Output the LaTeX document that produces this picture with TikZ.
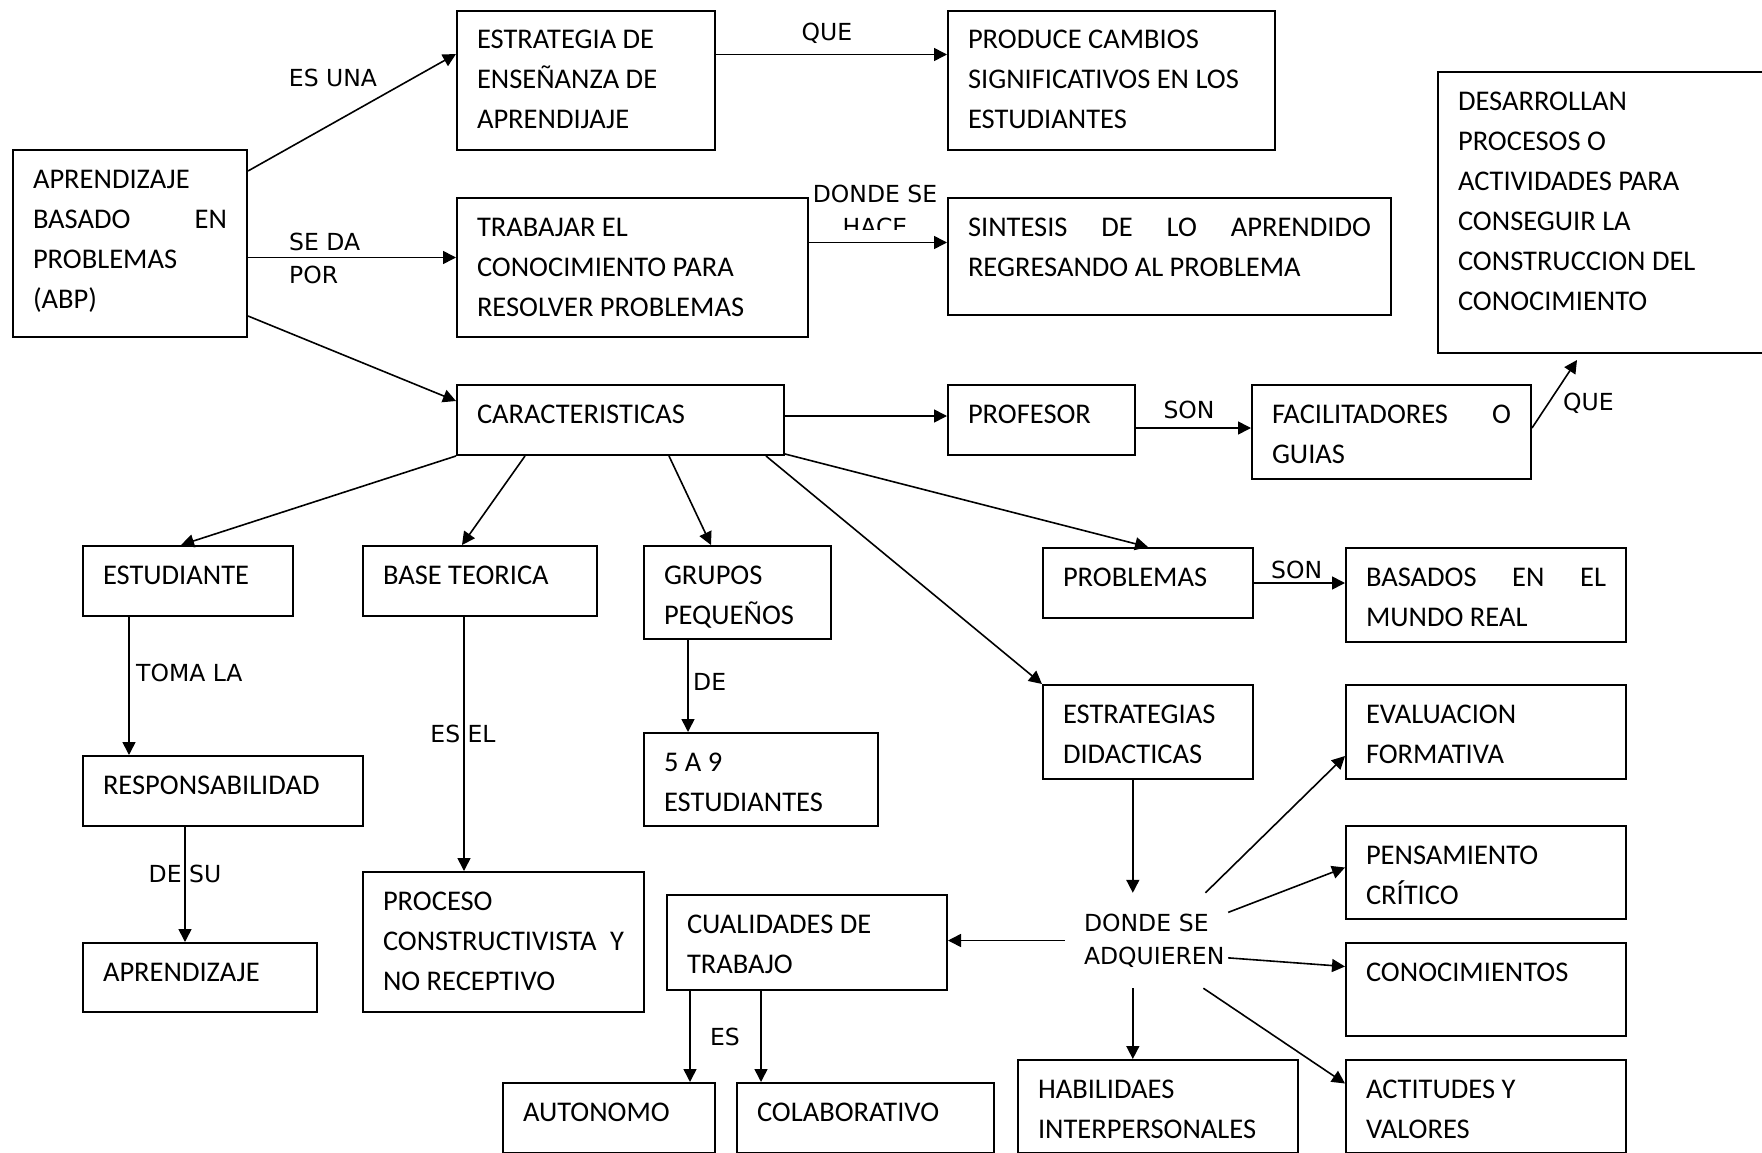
\documentclass[tikz,border=0pt]{standalone}
\usepackage{fontspec}
\setmainfont{Carlito}
\newfontfamily\labelfont{DejaVu Sans}
\usetikzlibrary{arrows.meta}
\hyphenpenalty=10000
\exhyphenpenalty=10000
\newcommand{\conceptbox}[3]{\parbox[c][#2pt][t]{#1pt}{\rule{0pt}{38pt}#3}}

\begin{document}
\begin{tikzpicture}[x=1pt, y=-1pt,
  concept/.style={draw, line width=2pt, anchor=north west, inner xsep=20pt,
    inner ysep=0pt, font=\fontsize{28.5}{40}\selectfont},
  link/.style={font=\labelfont\fontsize{23.5}{33}\selectfont, inner sep=0pt},
  linkarrows/.style={every edge/.style={draw, -{Triangle[length=13pt, width=13pt]},
    line width=1.6pt}}]

  \useasboundingbox[fill=white] (0, 0) rectangle (1762, 1153);

  \node[concept] (abp) at (12, 149)
    {\conceptbox{194}{187}{APRENDIZAJE\\BASADO\hfill EN\\PROBLEMAS\\(ABP)}};

  \node[concept] (estrat) at (456, 10)
    {\conceptbox{218}{139}{ESTRATEGIA DE\\ENSEÑANZA DE\\APRENDIJAJE}};

  \node[concept] (produce) at (947, 10)
    {\conceptbox{287}{139}{PRODUCE CAMBIOS\\SIGNIFICATIVOS EN LOS\\ESTUDIANTES}};

  \node[concept] (desarr) at (1437, 71)
    {\conceptbox{289}{281}{DESARROLLAN\\PROCESOS O\\ACTIVIDADES PARA\\CONSEGUIR LA\\CONSTRUCCION DEL\\CONOCIMIENTO}};

  \node[concept] (trabajar) at (456, 197)
    {\conceptbox{311}{139}{TRABAJAR EL\\CONOCIMIENTO PARA\\RESOLVER PROBLEMAS}};

  \node[concept] (sintesis) at (947, 197)
    {\conceptbox{403}{117}{SINTESIS\hfill DE\hfill LO\hfill APRENDIDO\\REGRESANDO AL PROBLEMA}};

  \node[concept] (caract) at (456, 384)
    {\conceptbox{287}{70}{CARACTERISTICAS}};

  \node[concept] (profesor) at (947, 384)
    {\conceptbox{147}{70}{PROFESOR}};

  \node[concept] (facil) at (1251, 384)
    {\conceptbox{239}{94}{FACILITADORES\hfill O\\GUIAS}};

  \node[concept] (estud) at (82, 545)
    {\conceptbox{170}{70}{ESTUDIANTE}};

  \node[concept] (base) at (362, 545)
    {\conceptbox{194}{70}{BASE TEORICA}};

  \node[concept] (grupos) at (643, 545)
    {\conceptbox{147}{93}{GRUPOS\\PEQUEÑOS}};

  \node[concept] (problemas) at (1042, 547)
    {\conceptbox{170}{70}{PROBLEMAS}};

  \node[concept] (basados) at (1345, 547)
    {\conceptbox{240}{94}{BASADOS\hfill EN\hfill EL\\MUNDO REAL}};

  \node[concept] (didac) at (1042, 684)
    {\conceptbox{170}{94}{ESTRATEGIAS\\DIDACTICAS}};

  \node[concept] (eval) at (1345, 684)
    {\conceptbox{240}{94}{EVALUACION\\FORMATIVA}};

  \node[concept] (resp) at (82, 755)
    {\conceptbox{240}{70}{RESPONSABILIDAD}};

  \node[concept] (cinco) at (643, 732)
    {\conceptbox{194}{93}{5 A 9\\ESTUDIANTES}};

  \node[concept] (pensam) at (1345, 825)
    {\conceptbox{240}{93}{PENSAMIENTO\\CRÍTICO}};

  \node[concept] (aprend) at (82, 942)
    {\conceptbox{194}{69}{APRENDIZAJE}};

  \node[concept] (proceso) at (362, 871)
    {\conceptbox{241}{140}{PROCESO\\CONSTRUCTIVISTA~\hfill Y\\NO RECEPTIVO}};

  \node[concept] (cualid) at (666, 894)
    {\conceptbox{240}{95}{CUALIDADES DE\\TRABAJO}};

  \node[concept] (conoc) at (1345, 942)
    {\conceptbox{240}{93}{CONOCIMIENTOS}};

  \node[concept] (auton) at (502, 1082)
    {\conceptbox{172}{70}{AUTONOMO}};

  \node[concept] (colab) at (736, 1082)
    {\conceptbox{217}{70}{COLABORATIVO}};

  \node[concept] (habil) at (1017, 1059)
    {\conceptbox{240}{93}{HABILIDAES\\INTERPERSONALES}};

  \node[concept] (actit) at (1345, 1059)
    {\conceptbox{240}{93}{ACTITUDES Y\\VALORES}};

  % text in the middle, no frame
  \node[link, text width=125pt, inner xsep=19pt, align=left, minimum height=95pt]
    (donde) at (1146.5, 940.5) {DONDE~SE\\\mbox{ADQUIEREN}};

  % labels on the connectors
  \node[link, anchor=base] (esuna) at (333, 87) {ES UNA};
  \node[link, anchor=north west, align=left] (seda) at (289, 233) {SE DA\\POR};
  \node[link, anchor=base] (que) at (827, 41) {QUE};
  \begin{scope}
    \clip (800, 150) rectangle (950, 229);
    \node[link, anchor=north, align=center] (hace) at (875, 185) {DONDE SE\\HACE};
  \end{scope}
  \node[link, anchor=base] (sonprof) at (1189, 418) {SON};
  \node[link, anchor=base west] (quefacil) at (1563, 410) {QUE};
  \node[link, anchor=base west] (toma) at (136, 681) {TOMA LA};
  \node[link, anchor=base] (desu) at (185, 882) {DE SU};
  \node[link, anchor=base] (esel) at (463, 742) {ES EL};
  \node[link, anchor=base west] (de) at (693, 690) {DE};
  \node[link, anchor=base west] (sonprob) at (1271, 578) {SON};
  \node[link, anchor=base] (es) at (725, 1045) {ES};

  \path[linkarrows]
    ([yshift=-22pt]abp.north east) edge ([yshift=-44pt]estrat.north west)
    ([yshift=-14pt]abp.east) edge ([yshift=-14pt]abp.east -| trabajar.west)
    ([yshift=22pt]abp.south east) edge ([yshift=-17pt]caract.north west);

  \path[linkarrows]
    ([yshift=26pt]estrat.east) edge ([yshift=26pt]estrat.east -| produce.west)
    ([yshift=25pt]trabajar.east) edge ([yshift=25pt]trabajar.east -| sintesis.west);

  \path[linkarrows]
    ([yshift=4pt]caract.east) edge ([yshift=4pt]caract.east -| profesor.west)
    ([yshift=-8pt]profesor.east) edge ([yshift=-8pt]profesor.east -| facil.west)
    ([yshift=4pt]facil.east) edge ([xshift=140pt, yshift=-6pt]desarr.south west)
    (problemas.east) edge (problemas.east -| basados.west);

  \path[linkarrows]
    (caract.south west) edge ([xshift=-7pt]estud.north)
    ([xshift=69pt]caract.south west) edge ([xshift=-18pt]base.north)
    ([xshift=213pt]caract.south west) edge ([xshift=68pt]grupos.north west)
    ([xshift=-19pt]caract.south east) edge (didac.north west)
    ([yshift=2pt]caract.south east) edge (problemas.north);

  \path[linkarrows]
    ([xshift=47pt]estud.south west) edge ([xshift=47pt]estud.south west |- resp.north)
    ([xshift=103pt]resp.south west) edge ([xshift=103pt]resp.south west |- aprend.north)
    ([xshift=102pt]base.south west) edge ([xshift=102pt]base.south west |- proceso.north)
    ([xshift=45pt]grupos.south west) edge ([xshift=45pt]grupos.south west |- cinco.north)
    ([xshift=24pt]cualid.south west) edge ([xshift=24pt]cualid.south west |- auton.north)
    ([xshift=95pt]cualid.south west) edge ([xshift=95pt]cualid.south west |- colab.north);

  \path[linkarrows]
    (didac.south -| donde.106) edge (donde.106)
    (donde.west) edge (donde.west -| cualid.east)
    (donde.39) edge ([yshift=-24pt]eval.west)
    (donde.19) edge ([yshift=5pt]pensam.west)
    (donde.348) edge ([yshift=23pt]conoc.west)
    (donde.320) edge ([yshift=23pt]actit.west)
    (donde.254) edge (donde.254 |- habil.north);
\end{tikzpicture}
\end{document}
